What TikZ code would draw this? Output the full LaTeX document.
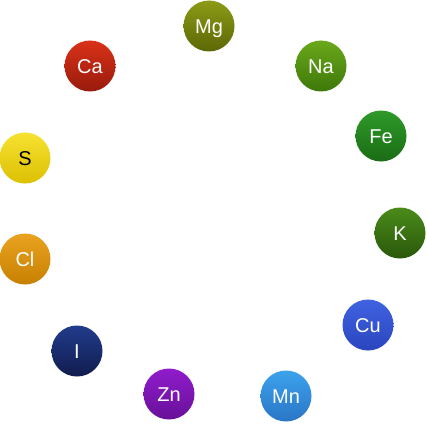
\documentclass[tikz,border=0pt]{standalone}
\usepackage{fontspec}
\setmainfont{Liberation Sans}

\definecolor{mgtop}{HTML}{8C9A16}\definecolor{mgbot}{HTML}{5C6806}
\definecolor{natop}{HTML}{6AA81A}\definecolor{nabot}{HTML}{3E780A}
\definecolor{fetop}{HTML}{2F9A2A}\definecolor{febot}{HTML}{1A6C14}
\definecolor{ktop}{HTML}{4A8A1A}\definecolor{kbot}{HTML}{2A580A}
\definecolor{cutop}{HTML}{4062E2}\definecolor{cubot}{HTML}{2A46BE}
\definecolor{mntop}{HTML}{3CA2EC}\definecolor{mnbot}{HTML}{2A76C6}
\definecolor{zntop}{HTML}{901CCC}\definecolor{znbot}{HTML}{681098}
\definecolor{itop}{HTML}{223C8C}\definecolor{ibot}{HTML}{101C4E}
\definecolor{cltop}{HTML}{EAA220}\definecolor{clbot}{HTML}{C88002}
\definecolor{stop}{HTML}{F6E232}\definecolor{sbot}{HTML}{DCC002}
\definecolor{catop}{HTML}{DA3218}\definecolor{cabot}{HTML}{981A0C}

\tikzset{
    elem/.style = {
        circle,
        minimum size = 51pt,
        inner sep = 0pt,
        text height = 14.4pt,
        text depth = 0pt,
        font = \fontsize{20}{20}\selectfont
    }
}

\begin{document}
\begin{tikzpicture}[x=1pt,y=-1pt]
            \useasboundingbox (0,0) rectangle (427,425);
            % elements placed round the ring
            \foreach \name/\x/\y/\c/\t in {
                Mg/209/26/mg/white, Na/321/66/na/white, Fe/381/136/fe/white,
                K/400/233/k/white, Cu/368/325/cu/white, Mn/286/396/mn/white,
                Zn/169/394/zn/white, I/77/351/i/white, Cl/25/259/cl/white,
                S/25/158/s/black, Ca/90/66/ca/white}
            {
                \node[
                    elem,
                    top color = \c top,
                    bottom color = \c bot,
                    text = \t
                ] (\name) at (\x,\y) {\name};
            }
        \end{tikzpicture}
\end{document}
